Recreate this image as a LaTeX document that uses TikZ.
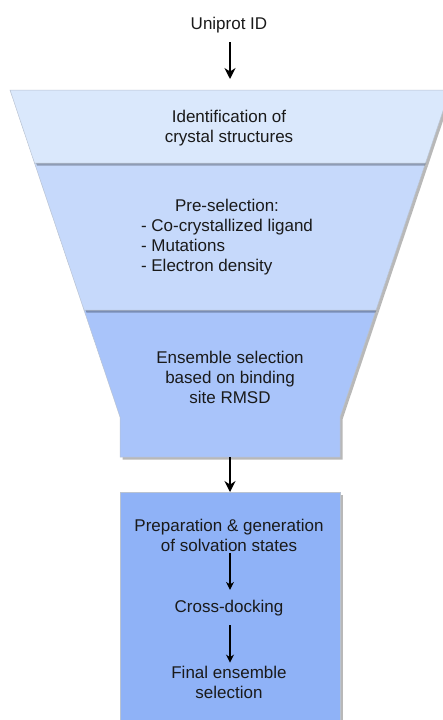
\documentclass[tikz,border=0pt]{standalone}
\usepackage{fontspec}
\setmainfont{Liberation Sans}
\usetikzlibrary{arrows.meta}

\definecolor{tierone}{HTML}{DAE8FC}
\definecolor{tiertwo}{HTML}{C6D9FB}
\definecolor{tierthree}{HTML}{A9C4FA}
\definecolor{tierfour}{HTML}{8FB2F7}
\definecolor{ink}{HTML}{1A1A1A}
\definecolor{rim}{HTML}{B9C3D2}

\tikzset{
  stage/.style={fill=#1, draw=rim, line width=0.5pt},
  shade/.style={fill=black, opacity=0.28, draw=none},
  caption/.style={font=\fontsize{17}{20}\selectfont, text=ink, align=center, inner sep=0pt},
  flow/.style={-{Stealth[length=11pt,width=11pt]}, line width=1.7pt, draw=black},
  subflow/.style={-{Stealth[length=8pt,width=8pt]}, line width=1.1pt, draw=black}
}

\begin{document}
\begin{tikzpicture}[x=1pt,y=-1pt]
  \useasboundingbox (0,0) rectangle (443,720);
  \clip (0,0) rectangle (443,720);

  % lower box: the refinement steps
  \fill[shade] (122.5,494.5) rectangle (342.5,742);
  \path[stage=tierfour] (120,492) rectangle (340,740);

  % third funnel tier
  \fill[shade, shift={(2.5,2.5)}] (84,310) -- (376,310) -- (340,417) -- (340,457) -- (120,457) -- (120,417) -- cycle;
  \path[stage=tierthree] (84,310) -- (376,310) -- (340,417) -- (340,457) -- (120,457) -- (120,417) -- cycle;

  % second funnel tier
  \fill[shade, shift={(2.5,2.5)}] (34.5,163) -- (425.5,163) -- (376,310) -- (84,310) -- cycle;
  \path[stage=tiertwo] (34.5,163) -- (425.5,163) -- (376,310) -- (84,310) -- cycle;

  % first funnel tier
  \fill[shade, shift={(2.5,2.5)}] (10,90) -- (450,90) -- (425.5,163) -- (34.5,163) -- cycle;
  \path[stage=tierone] (10,90) -- (450,90) -- (425.5,163) -- (34.5,163) -- cycle;

  % texts
  \node[caption] (uniprot) at (229,25) {Uniprot ID};
  \node[caption] (ident) at (229,128) {Identification of\\crystal structures};
  \node[caption] (presel) at (227,237) {\begin{tabular}{@{}l@{}}\multicolumn{1}{@{}c@{}}{Pre-selection:}\\- Co-crystallized ligand\\- Mutations\\- Electron density\end{tabular}};
  \node[caption] (ensemble) at (230,377) {Ensemble selection\\based on binding\\site RMSD};
  \node[caption] (prep) at (229,535.5) {Preparation \& generation\\of solvation states};
  \node[caption] (cross) at (229,608) {Cross-docking};
  \node[caption] (final) at (229,682) {Final ensemble\\selection};

  % connectors
  \coordinate (funneltop) at (230,79);
  \coordinate (funnelout) at (230,457);
  \coordinate (boxtop) at (230,492);
  \draw[flow] (uniprot.south -| funneltop) ++(0,9) -- (funneltop);
  \draw[flow] (funnelout) -- (boxtop);
  \draw[subflow, shorten <=1pt, shorten >=10pt] (prep.south -| boxtop) -- (cross.north -| boxtop);
  \draw[subflow, shorten <=9pt, shorten >=3pt] (cross.south -| boxtop) -- (final.north -| boxtop);
\end{tikzpicture}
\end{document}
